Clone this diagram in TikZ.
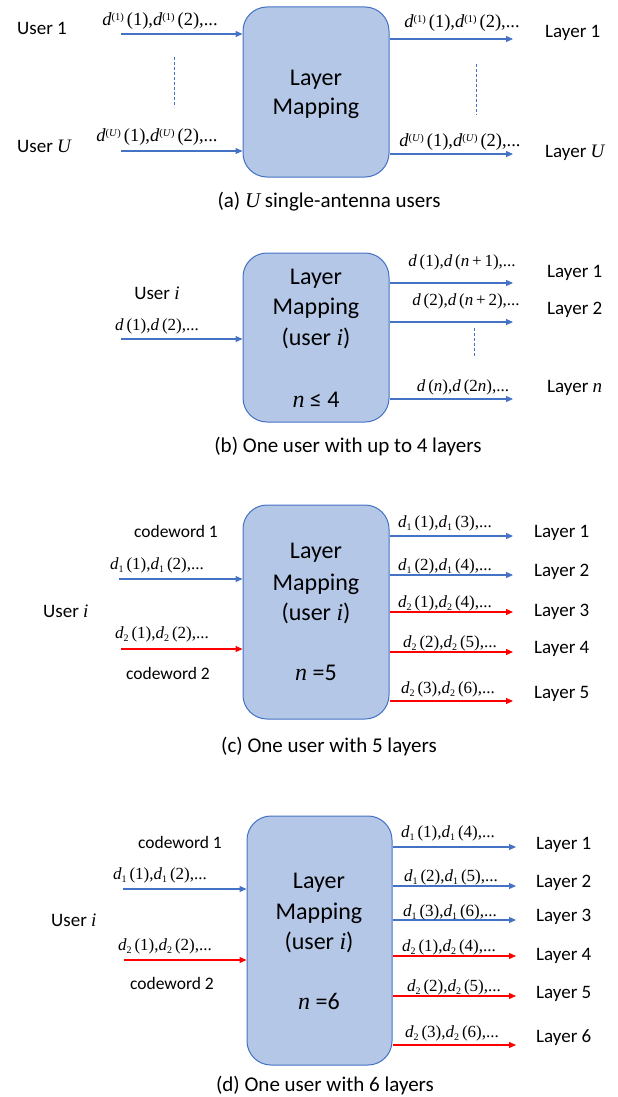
\documentclass[tikz,border=0pt]{standalone}
\usepackage{fontspec}
\setmainfont{Carlito}
\newfontfamily\tms{Liberation Serif}
\usetikzlibrary{arrows.meta}

\definecolor{boxfill}{HTML}{B4C7E7}
\definecolor{boxline}{HTML}{4472C4}
\definecolor{flowblue}{HTML}{4472C4}
\definecolor{flowred}{HTML}{FF0000}

% pieces of the symbol sequences
\newcommand\upx[1]{\raisebox{0.6ex}{\fontsize{10.5}{10.5}\selectfont(#1)}}
\newcommand\dnx[1]{\raisebox{-0.45ex}{\fontsize{10}{10}\selectfont #1}}
\newcommand\pr[1]{\,(#1)}
\newcommand\prs[1]{\hspace{3pt}(#1)}
\newcommand\dU[1]{\textit{d}\upx{#1}}
\newcommand\dS[1]{\textit{d}\dnx{#1}}
\newcommand\ddd{\textit{d}}
\newcommand\mi[1]{{\tms\itshape #1}}

\tikzset{
  mapbox/.style={draw=boxline, fill=boxfill, line width=1pt, rounded corners=24pt, inner sep=0pt},
  flow/.style={-{Triangle[length=7pt,width=6pt]}, line width=1.1pt, draw=flowblue},
  flowr/.style={flow, draw=flowred},
  lbl/.style={font=\tms\fontsize{17}{17}\selectfont, inner sep=0pt},
  lblsup/.style={font=\tms\fontsize{18.5}{18.5}\selectfont, inner sep=0pt},
  side/.style={font=\fontsize{19}{19}\selectfont, inner sep=0pt, anchor=west},
  cw/.style={font=\fontsize{17.5}{17.5}\selectfont, inner sep=0pt},
  intext/.style={font=\fontsize{24}{24}\selectfont, inner sep=0pt},
  captext/.style={font=\fontsize{21}{21}\selectfont, inner sep=0pt},
  vdots/.style={draw=flowblue, dash pattern=on 3pt off 2pt, line width=0.8pt}
}

\begin{document}
\begin{tikzpicture}[x=1pt,y=-1pt]
\fill[white] (0,0) rectangle (618,1097);
\useasboundingbox (0,0) rectangle (618,1097);

% ---------------- (a) U single-antenna users ----------------
\node[mapbox, minimum width=146pt, minimum height=170pt] (A) at (316,92) {};
\node[intext] (A-t1) at (316,80) {Layer};
\node[intext] (A-t2) at (316,108) {Mapping};

\node[side] (A-u1) at (17,28) {User 1};
\node[side] (A-uU) at (17,146) {User \mi{U}};
\coordinate (A-i1) at (121,34);
\coordinate (A-i2) at (121,151);
\draw[flow] (A-i1) -- (A-i1 -| A.west);
\draw[flow] (A-i2) -- (A-i2 -| A.west);
\node[lblsup] (A-l1) at (160,21) {\dU{1}\prs{1},\dU{1}\prs{2},...};
\node[lblsup] (A-l2) at (157,137) {\dU{\textit{U}}\prs{1},\dU{\textit{U}}\prs{2},...};
\coordinate (A-d1) at (174,57);
\coordinate (A-d2) at (174,107);
\draw[vdots] (A-d1) -- (A-d2);

\coordinate (A-o1) at (513,39);
\coordinate (A-o2) at (513,154);
\draw[flow] (A-o1 -| A.east) -- (A-o1);
\draw[flow] (A-o2 -| A.east) -- (A-o2);
\node[lblsup] (A-r1) at (462,23) {\dU{1}\prs{1},\dU{1}\prs{2},...};
\node[lblsup] (A-r2) at (460,142) {\dU{\textit{U}}\prs{1},\dU{\textit{U}}\prs{2},...};
\coordinate (A-e1) at (476,64);
\coordinate (A-e2) at (476,115);
\draw[vdots] (A-e1) -- (A-e2);
\node[side] (A-L1) at (545,33) {Layer 1};
\node[side] (A-LU) at (545,153) {Layer \mi{U}};

\node[captext] (A-cap) at (329,202) {(a) \mi{U} single-antenna users};

% ---------------- (b) one user, up to 4 layers ----------------
\node[mapbox, minimum width=146pt, minimum height=169pt] (B) at (316,337.5) {};
\node[intext] (B-t1) at (316,279) {Layer};
\node[intext] (B-t2) at (316,308) {Mapping};
\node[intext] (B-t3) at (316,338) {(user \mi{i})};
\node[intext] (B-t4) at (316,400) {\mi{n} ≤ 4};

\node[side, anchor=center] (B-u) at (157,293) {User \mi{i}};
\coordinate (B-i1) at (121,339);
\draw[flow] (B-i1) -- (B-i1 -| B.west);
\node[lbl] (B-l1) at (157,326) {\ddd\pr{1},\ddd\pr{2},...};

\coordinate (B-o1) at (513,283);
\coordinate (B-o2) at (513,322);
\coordinate (B-o3) at (513,399);
\draw[flow] (B-o1 -| B.east) -- (B-o1);
\draw[flow] (B-o2 -| B.east) -- (B-o2);
\draw[flow] (B-o3 -| B.east) -- (B-o3);
\node[lbl] (B-r1) at (462,262) {\ddd\pr{1},\ddd\pr{\textit{n}\,+\,1},...};
\node[lbl] (B-r2) at (466,301) {\ddd\pr{2},\ddd\pr{\textit{n}\,+\,2},...};
\node[lbl] (B-r3) at (463,387) {\ddd\pr{\textit{n}},\ddd\pr{2\textit{n}},...};
\coordinate (B-e1) at (474,328);
\coordinate (B-e2) at (474,358);
\draw[vdots] (B-e1) -- (B-e2);
\node[side] (B-L1) at (547,273) {Layer 1};
\node[side] (B-L2) at (547,310) {Layer 2};
\node[side] (B-Ln) at (547,388) {Layer \mi{n}};

\node[captext] (B-cap) at (348,447) {(b) One user with up to 4 layers};

% ---------------- (c) one user, 5 layers ----------------
\node[mapbox, minimum width=146pt, minimum height=214pt] (C) at (316,612) {};
\node[intext] (C-t1) at (316,553) {Layer};
\node[intext] (C-t2) at (316,584) {Mapping};
\node[intext] (C-t3) at (316,613) {(user \mi{i})};
\node[intext] (C-t4) at (316,673) {\mi{n} =5};

\node[cw] (C-c1) at (176,531) {codeword 1};
\node[cw] (C-c2) at (168,673) {codeword 2};
\node[side] (C-u) at (43,611) {User \mi{i}};
\coordinate (C-i1) at (119,579);
\coordinate (C-i2) at (121,649);
\draw[flow] (C-i1) -- (C-i1 -| C.west);
\draw[flowr] (C-i2) -- (C-i2 -| C.west);
\node[lbl] (C-l1) at (157,565) {\dS{1}\pr{1},\dS{1}\pr{2},...};
\node[lbl] (C-l2) at (162,634) {\dS{2}\pr{1},\dS{2}\pr{2},...};

\coordinate (C-o1) at (513,536);
\coordinate (C-o2) at (513,575);
\coordinate (C-o3) at (513,612);
\coordinate (C-o4) at (513,652);
\coordinate (C-o5) at (513,701);
\draw[flow] (C-o1 -| C.east) -- (C-o1);
\draw[flow] (C-o2 -| C.east) -- (C-o2);
\draw[flowr] (C-o3 -| C.east) -- (C-o3);
\draw[flowr] (C-o4 -| C.east) -- (C-o4);
\draw[flowr] (C-o5 -| C.east) -- (C-o5);
\node[lbl] (C-r1) at (445,523) {\dS{1}\pr{1},\dS{1}\pr{3},...};
\node[lbl] (C-r2) at (445,566) {\dS{1}\pr{2},\dS{1}\pr{4},...};
\node[lbl] (C-r3) at (445,603) {\dS{2}\pr{1},\dS{2}\pr{4},...};
\node[lbl] (C-r4) at (450,643) {\dS{2}\pr{2},\dS{2}\pr{5},...};
\node[lbl] (C-r5) at (448,689) {\dS{2}\pr{3},\dS{2}\pr{6},...};
\node[side] (C-L1) at (534,533) {Layer 1};
\node[side] (C-L2) at (534,572) {Layer 2};
\node[side] (C-L3) at (534,612) {Layer 3};
\node[side] (C-L4) at (534,649) {Layer 4};
\node[side] (C-L5) at (534,694) {Layer 5};

\node[captext] (C-cap) at (329,747) {(c) One user with 5 layers};

% ---------------- (d) one user, 6 layers ----------------
\node[mapbox, minimum width=145pt, minimum height=249pt] (D) at (319.5,940.5) {};
\node[intext] (D-t1) at (319,883) {Layer};
\node[intext] (D-t2) at (319,913) {Mapping};
\node[intext] (D-t3) at (319,942) {(user \mi{i})};
\node[intext] (D-t4) at (319,1001) {\mi{n} =6};

\node[cw] (D-c1) at (180,842) {codeword 1};
\node[cw] (D-c2) at (172,983) {codeword 2};
\node[side] (D-u) at (51,920) {User \mi{i}};
\coordinate (D-i1) at (123,889);
\coordinate (D-i2) at (124,960);
\draw[flow] (D-i1) -- (D-i1 -| D.west);
\draw[flowr] (D-i2) -- (D-i2 -| D.west);
\node[lbl] (D-l1) at (160,875) {\dS{1}\pr{1},\dS{1}\pr{2},...};
\node[lbl] (D-l2) at (165,946) {\dS{2}\pr{1},\dS{2}\pr{2},...};

\coordinate (D-o1) at (516,847);
\coordinate (D-o2) at (516,886);
\coordinate (D-o3) at (516,920);
\coordinate (D-o4) at (516,956);
\coordinate (D-o5) at (516,996);
\coordinate (D-o6) at (516,1045);
\draw[flow] (D-o1 -| D.east) -- (D-o1);
\draw[flow] (D-o2 -| D.east) -- (D-o2);
\draw[flow] (D-o3 -| D.east) -- (D-o3);
\draw[flowr] (D-o4 -| D.east) -- (D-o4);
\draw[flowr] (D-o5 -| D.east) -- (D-o5);
\draw[flowr] (D-o6 -| D.east) -- (D-o6);
\node[lbl] (D-r1) at (448,833) {\dS{1}\pr{1},\dS{1}\pr{4},...};
\node[lbl] (D-r2) at (451,877) {\dS{1}\pr{2},\dS{1}\pr{5},...};
\node[lbl] (D-r3) at (450,912) {\dS{1}\pr{3},\dS{1}\pr{6},...};
\node[lbl] (D-r4) at (449,947) {\dS{2}\pr{1},\dS{2}\pr{4},...};
\node[lbl] (D-r5) at (454,987) {\dS{2}\pr{2},\dS{2}\pr{5},...};
\node[lbl] (D-r6) at (452,1033) {\dS{2}\pr{3},\dS{2}\pr{6},...};
\node[side] (D-L1) at (536,845) {Layer 1};
\node[side] (D-L2) at (536,883) {Layer 2};
\node[side] (D-L3) at (536,917) {Layer 3};
\node[side] (D-L4) at (536,956) {Layer 4};
\node[side] (D-L5) at (536,994) {Layer 5};
\node[side] (D-L6) at (536,1038) {Layer 6};

\node[captext] (D-cap) at (325,1085) {(d) One user with 6 layers};
\end{tikzpicture}
\end{document}
